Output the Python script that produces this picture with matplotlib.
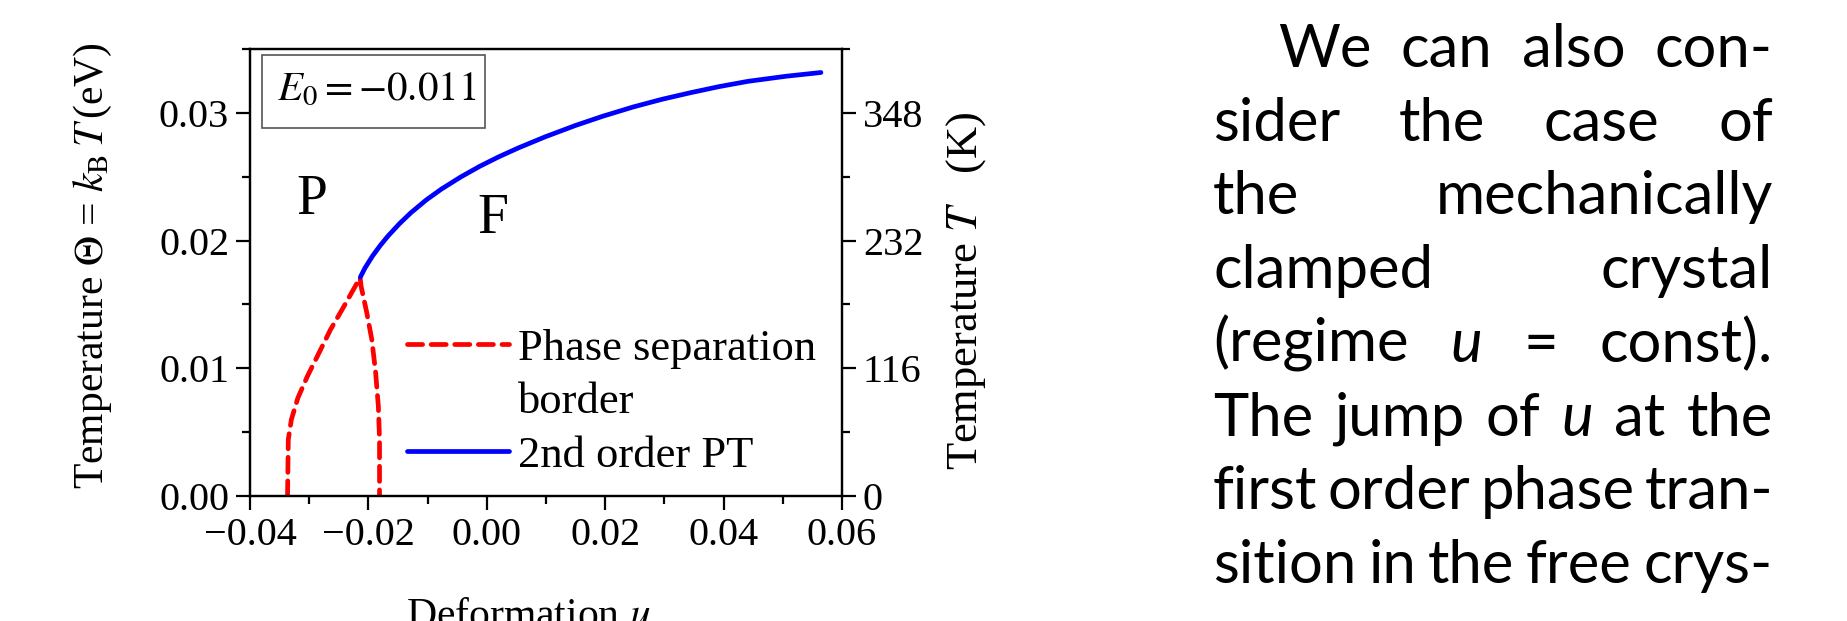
import matplotlib
matplotlib.use("Agg")
import matplotlib.pyplot as plt
from matplotlib.lines import Line2D
from matplotlib.patches import Rectangle
from matplotlib.ticker import MultipleLocator

# Phase diagram data
# 2nd order PT line (blue)
pt2_u = [-0.02136, -0.02058, -0.01929, -0.01799, -0.01670, -0.01476, -0.01282, -0.01023,
         -0.00764, -0.00440, -0.00117, 0.00207, 0.00531, 0.00984, 0.01502, 0.01955,
         0.02472, 0.02958, 0.03443, 0.03929, 0.04414, 0.05061, 0.05644]
pt2_theta = [0.01714, 0.01785, 0.01880, 0.01962, 0.02035, 0.02132, 0.02218, 0.02318,
             0.02404, 0.02498, 0.02582, 0.02657, 0.02725, 0.02812, 0.02902, 0.02973,
             0.03046, 0.03106, 0.03158, 0.03206, 0.03247, 0.03287, 0.03316]

# phase separation border (red dashed): left branch -> top -> right branch
sep_u = [-0.03366, -0.03353, -0.03301, -0.03191, -0.0303, -0.02835, -0.02641, -0.02414, -0.0214,
         -0.02123, -0.02026, -0.01942, -0.01877, -0.01832, -0.01812, -0.01812]
sep_theta = [0.0, 0.00443, 0.00599, 0.00768, 0.00938, 0.0112, 0.01302, 0.01484, 0.0171,
             0.01641, 0.01432, 0.01224, 0.00964, 0.00703, 0.00443, 0.0]

x_ticks = [-0.04, -0.02, 0.00, 0.02, 0.04, 0.06]
x_ticklabels = ['\u22120.04', '\u22120.02', '0.00', '0.02', '0.04', '0.06']
y_ticks = [0.00, 0.01, 0.02, 0.03]
y_ticklabels = ['0.00', '0.01', '0.02', '0.03']
kelvin_ticks = [0, 116, 232, 348]
K_PER_UNIT = 11600.0  # 0.01 eV <-> 116 K

# paragraph text to the right of the figure
para_lines = [
    ['We', 'can', 'also', 'con-'],
    ['sider', 'the', 'case', 'of'],
    ['the', 'mechanically'],
    ['clamped', 'crystal'],
    ['(regime', 'u', '=', 'const).'],
    ['The', 'jump', 'of', 'u', 'at', 'the'],
    ['first', 'order', 'phase', 'tran-'],
    ['sition', 'in', 'the', 'free', 'crys-'],
]

W, H = 1847, 621
plt.rcParams['font.family'] = 'Liberation Serif'
plt.rcParams['mathtext.fontset'] = 'stix'

fig = plt.figure(figsize=(W / 100, H / 100), dpi=100)
ax = fig.add_axes([250 / W, 1 - 496 / H, 592 / W, 447 / H])

sep_line, = ax.plot(sep_u, sep_theta, color='#ff0000', lw=3.4,
                    linestyle=(0, (3.2, 1.8)), dash_capstyle='round')
pt2_line, = ax.plot(pt2_u, pt2_theta, color='#0000ff', lw=3.4, solid_capstyle='round')

ax.set_xlim(-0.04, 0.06)
ax.set_ylim(0, 0.035)
ax.set_xticks(x_ticks)
ax.set_xticklabels(x_ticklabels)
ax.set_yticks(y_ticks)
ax.set_yticklabels(y_ticklabels)
ax.xaxis.set_minor_locator(MultipleLocator(0.01))
ax.yaxis.set_minor_locator(MultipleLocator(0.005))
ax.tick_params(which='both', direction='out', width=1.6, labelsize=29, pad=5,
               top=False, right=False)
ax.tick_params(which='major', length=10)
ax.tick_params(which='minor', length=5.5)
for sp in ax.spines.values():
    sp.set_linewidth(1.6)

# right axis in Kelvin
ax2 = ax.twinx()
ax2.set_ylim(0, 0.035 * K_PER_UNIT)
ax2.set_yticks(kelvin_ticks)
ax2.set_yticklabels([str(k) for k in kelvin_ticks])
ax2.yaxis.set_minor_locator(MultipleLocator(58))
ax2.tick_params(which='both', direction='out', width=1.6, labelsize=29, pad=5)
ax2.tick_params(which='major', length=10)
ax2.tick_params(which='minor', length=5.5)
for sp in ax2.spines.values():
    sp.set_linewidth(1.6)

ax.set_ylabel(r'Temperature $\Theta$ = $k_{\mathrm{B}}\,T\,$(eV)', fontsize=30, va='center')
ax.yaxis.set_label_coords(-0.265, 0.515)
ax2.set_ylabel(r'Temperature $T$   (K)', fontsize=32, va='center')
ax2.yaxis.set_label_coords(1.21, 0.46)
ax.set_xlabel(r'Deformation $u$', fontsize=30, va='top')
ax.xaxis.set_label_coords(0.47, -0.228)

# E0 annotation in a framed box
ax.add_patch(Rectangle((0.0203, 0.8233), 0.3767, 0.1633, transform=ax.transAxes,
                       fc='white', ec='#555555', lw=1.2, zorder=3))
ax.text(0.0456, 0.886, r'$E_0 = -0.011$', transform=ax.transAxes, fontsize=29.5,
        ha='left', va='baseline', zorder=4)
ax.text(-0.0295, 0.0232, 'P', fontsize=40, ha='center', va='center')
ax.text(0.001, 0.0217, 'F', fontsize=40, ha='center', va='center')

blank = Line2D([], [], color='none')
ax.legend([sep_line, blank, pt2_line], ['Phase separation', 'border', '2nd order PT'],
          loc='center left', bbox_to_anchor=(0.265, 0.21), frameon=False,
          fontsize=32, handlelength=2.3, handletextpad=0.2, labelspacing=0.3,
          borderaxespad=0, borderpad=0)

# justified paragraph, font size shrunk until every line fits
PARA_FONT = 'Lato'
left_px, indent_px, right_px = 1213, 1278, 1773
base0, step = 67, 73.7
fig.canvas.draw()
renderer = fig.canvas.get_renderer()

def make_line(i, words, size):
    y = 1 - (base0 + i * step) / H
    arts = [fig.text(0, y, w, fontsize=size, family=PARA_FONT,
                     style='italic' if w == 'u' else 'normal', ha='left', va='baseline')
            for w in words]
    widths = [a.get_window_extent(renderer).width for a in arts]
    return arts, widths

size = 44
while True:
    ok = True
    for i, words in enumerate(para_lines):
        arts, widths = make_line(i, words, size)
        start = indent_px if i == 0 else left_px
        if sum(widths) + 0.22 * size * (len(words) - 1) > right_px - start:
            ok = False
        for a in arts:
            a.remove()
    if ok:
        break
    size -= 0.5

for i, words in enumerate(para_lines):
    arts, widths = make_line(i, words, size)
    start = indent_px if i == 0 else left_px
    gap = (right_px - start - sum(widths)) / (len(words) - 1)
    x = start
    for a, wd in zip(arts, widths):
        a.set_x(x / W)
        x += wd + gap

fig.savefig('out.png', dpi=100)
